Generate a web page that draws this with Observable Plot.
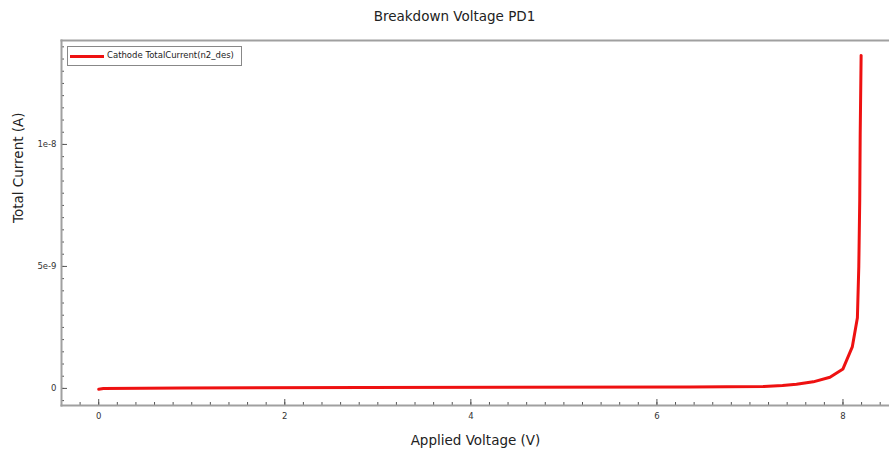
<!DOCTYPE html>
<html>
<head>
<meta charset="utf-8">
<script src="https://cdn.jsdelivr.net/npm/d3@7"></script>
<script src="https://cdn.jsdelivr.net/npm/@observablehq/plot@0.6"></script>
<style>
  body { margin: 0; background: #fff; font-family: "DejaVu Sans", sans-serif; }
  #wrap { position: relative; width: 889px; height: 454px; }
  #title { height: 32px; line-height: 32px; font-size: 13.5px; color: #222; text-align: center; padding-left: 20px; box-sizing: border-box; }
  #legend { position: absolute; left: 67px; top: 46px; width: 175px; height: 20px; border: 1px solid #888; background: #fff; box-sizing: border-box; font-size: 8.5px; color: #222; }
  #legend .sw { position: absolute; left: 2px; top: 8px; width: 34px; height: 3px; background: #ee1111; }
  #legend .tx { position: absolute; left: 39px; top: 3px; white-space: nowrap; }
</style>
</head>
<body>
<div id="wrap">
  <div id="title">Breakdown Voltage PD1</div>
  <div id="chart"></div>
  <div id="legend"><div class="sw"></div><div class="tx">Cathode TotalCurrent(n2_des)</div></div>
</div>
<script>
const voltage = [0, 0.05, 0.9, 2.85, 6.35, 7.15, 7.35, 7.5, 7.68, 7.86, 8.0, 8.1, 8.155, 8.17, 8.18, 8.185, 8.195];
const current = [-0.03e-9, 0.0, 0.02e-9, 0.04e-9, 0.06e-9, 0.08e-9, 0.12e-9, 0.17e-9, 0.27e-9, 0.46e-9, 0.8e-9, 1.7e-9, 2.9e-9, 5.0e-9, 7.7e-9, 10.4e-9, 13.65e-9];
const xMajor = [0, 2, 4, 6, 8];
const xMajorLabels = ["0", "2", "4", "6", "8"];
const yMajor = [0, 5e-9, 1e-8];
const yMajorLabels = ["0", "5e-9", "1e-8"];
const xMinor = d3.range(-2, 43).map(i => i * 0.2);
const yMinor = d3.range(-1, 29).map(i => i * 0.5e-9);

const data = voltage.map((v, i) => ({v, c: current[i]}));
const axisColor = "#a0a0a0";
const tickColor = "#555";

const chart = Plot.plot({
  width: 889,
  height: 422,
  marginTop: 8,
  marginBottom: 49,
  marginLeft: 61,
  marginRight: 0,
  style: {fontFamily: "DejaVu Sans, sans-serif", fontSize: "8.5px", color: "#333", background: "#fff"},
  x: {domain: [-0.4, 8.5]},
  y: {domain: [-0.7e-9, 14.26e-9]},
  marks: [
    Plot.frame({anchor: "top", stroke: axisColor, strokeWidth: 2}),
    Plot.axisX({ticks: xMinor, tickSize: -3, text: null, label: null, stroke: tickColor}),
    Plot.axisX({ticks: xMajor, tickSize: -6, text: null, label: null, stroke: tickColor}),
    Plot.axisX({ticks: xMajor, tickSize: 0, tickPadding: 7, tickFormat: d => xMajorLabels[xMajor.indexOf(d)], label: null, fill: "#333"}),
    Plot.axisY({ticks: yMinor, tickSize: -3, text: null, label: null, stroke: tickColor}),
    Plot.axisY({ticks: yMajor, tickSize: -6, text: null, label: null, stroke: tickColor}),
    Plot.axisY({ticks: yMajor, tickSize: 0, tickPadding: 5, tickFormat: d => yMajorLabels[yMajor.indexOf(d)], label: null, fill: "#333"}),
    Plot.frame({anchor: "left", stroke: axisColor, strokeWidth: 2}),
    Plot.frame({anchor: "bottom", stroke: axisColor, strokeWidth: 2}),
    Plot.line(data, {x: "v", y: "c", stroke: "#ee1111", strokeWidth: 3, strokeLinejoin: "round"}),
    Plot.text(["Applied Voltage (V)"], {frameAnchor: "bottom", dy: 35, fontSize: 13.5, fill: "#222", lineAnchor: "middle"}),
    Plot.text(["Total Current (A)"], {frameAnchor: "left", dx: -43, rotate: -90, fontSize: 13.5, fill: "#222", lineAnchor: "middle"})
  ]
});
document.getElementById("chart").appendChild(chart);
</script>
</body>
</html>
